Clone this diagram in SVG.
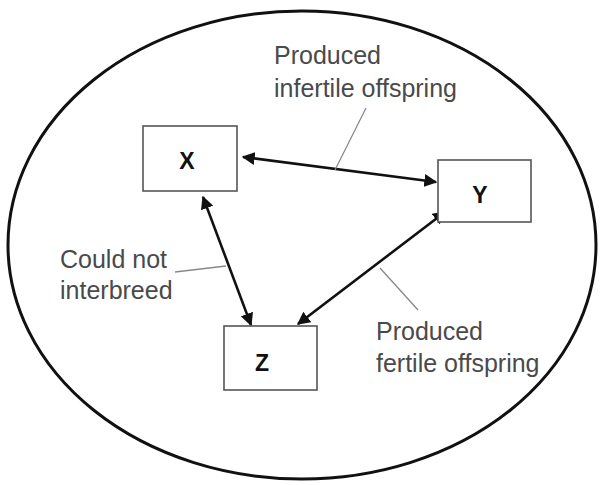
<svg xmlns="http://www.w3.org/2000/svg" width="604" height="485" viewBox="0 0 604 485">
<style>
.box{fill:#fff;stroke:#555;stroke-width:1.6}
.lbl{font-family:"Liberation Sans",Arial,sans-serif;font-weight:bold;font-size:23px;fill:#111;text-anchor:middle}
.note{font-family:"Liberation Sans",Arial,sans-serif;font-size:25px;fill:#4a4a4a}
.arr{stroke:#111;stroke-width:2.6;fill:none;marker-start:url(#ah);marker-end:url(#ah)}
.call{stroke:#888;stroke-width:1.3;fill:none}
</style>
<defs>
<marker id="ah" viewBox="0 0 10 10" refX="9" refY="5" markerWidth="5" markerHeight="5" orient="auto-start-reverse" markerUnits="strokeWidth">
<path d="M0,0 L10,5 L0,10 z" fill="#111"/>
</marker>
</defs>
<rect width="604" height="485" fill="#fff"/>
<ellipse id="boundary" cx="302" cy="245" rx="294" ry="234" fill="none" stroke="#111" stroke-width="3"/>
<g id="connectors">
<line class="arr" x1="243" y1="157" x2="436" y2="182"/>
<line class="arr" x1="203" y1="197" x2="251" y2="325"/>
<line class="arr" x1="445" y1="212" x2="298" y2="324"/>
<line class="call" x1="366" y1="108" x2="335" y2="170"/>
<line class="call" x1="175" y1="272" x2="226" y2="266"/>
<line class="call" x1="380" y1="268" x2="418" y2="310"/>
</g>
<g id="node-X">
<rect class="box" x="143" y="126" width="94" height="65"/>
<text class="lbl" x="187" y="169">X</text>
</g>
<g id="node-Y">
<rect class="box" x="438" y="160" width="93" height="62"/>
<text class="lbl" x="480" y="203">Y</text>
</g>
<g id="node-Z">
<rect class="box" x="224" y="326" width="93" height="64"/>
<text class="lbl" x="262" y="371">Z</text>
</g>
<g id="label-infertile">
<text class="note" x="274" y="64">Produced</text>
<text class="note" x="274" y="97">infertile offspring</text>
</g>
<g id="label-notinterbreed">
<text class="note" x="60" y="268">Could not</text>
<text class="note" x="60" y="299">interbreed</text>
</g>
<g id="label-fertile">
<text class="note" x="376" y="340">Produced</text>
<text class="note" x="376" y="372">fertile offspring</text>
</g>
</svg>
